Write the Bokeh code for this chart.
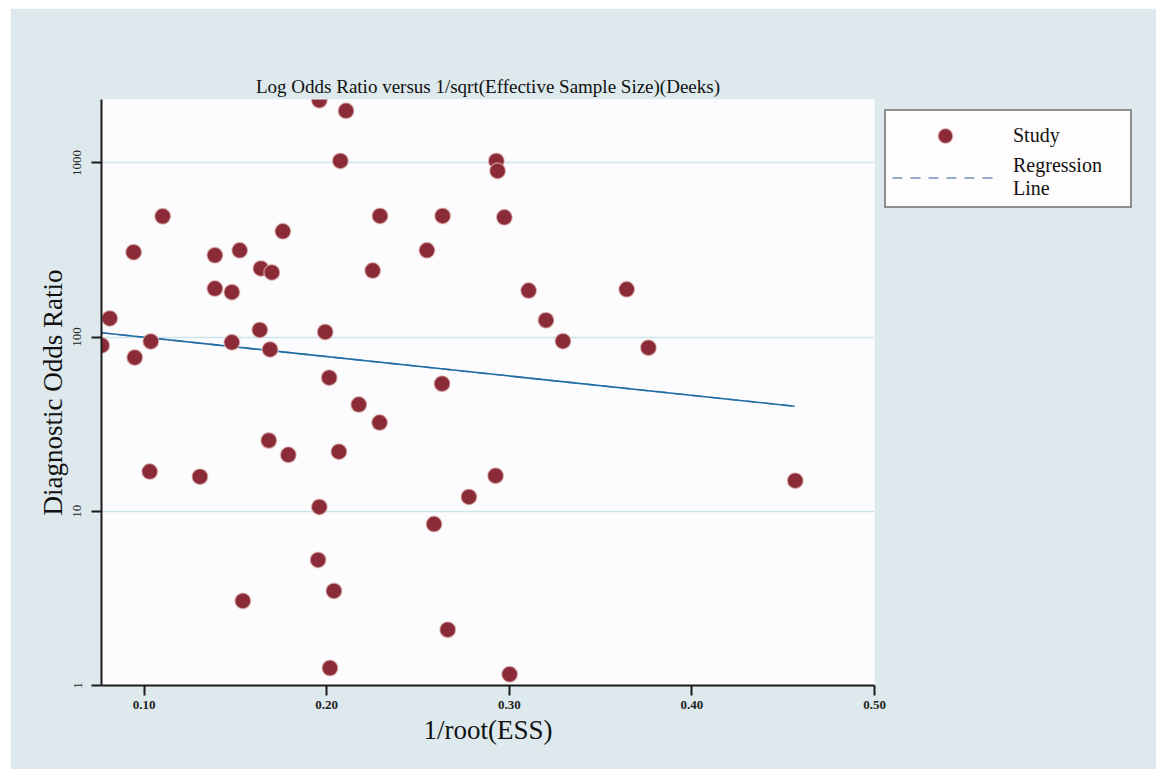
from bokeh.plotting import figure
from bokeh.models import (Range1d, FixedTicker, PrintfTickFormatter, BasicTickFormatter,
                          Legend, LegendItem, Title)
from bokeh.embed import file_html
from bokeh.resources import INLINE

# ---- data ----
ess_inv = [0.0768, 0.0812, 0.0943, 0.0949, 0.1037, 0.1031, 0.1102, 0.1306, 0.1388, 0.1388,
           0.1481, 0.1481, 0.1524, 0.1541, 0.1640, 0.1634, 0.1700, 0.1683, 0.1690, 0.1760,
           0.1790, 0.1960, 0.2106, 0.2075, 0.1960, 0.1953, 0.1992, 0.2014, 0.2018, 0.2040,
           0.2067, 0.2176, 0.2252, 0.2292, 0.2290, 0.2549, 0.2588, 0.2635, 0.2632, 0.2663,
           0.2779, 0.2929, 0.2936, 0.2973, 0.2925, 0.3002, 0.3106, 0.3201, 0.3294, 0.3643,
           0.3762, 0.4566]
dor = [89.6, 128, 307, 76.4, 94.4, 16.9, 494, 15.8, 295, 190,
       181, 93.3, 315, 3.06, 248, 110, 235, 25.5, 85, 405,
       21.1, 2290, 1991, 1027, 10.6, 5.26, 107, 58.5, 1.26, 3.49,
       22.0, 41.0, 241, 496, 32.3, 315, 8.45, 496, 54.0, 2.09,
       12.1, 1027, 900, 487, 16.0, 1.16, 185, 125, 94.8, 188,
       86.9, 15.0]

reg_x = [0.0767, 0.4562]
reg_y = [106.0, 40.1]

x_ticks = [0.10, 0.20, 0.30, 0.40, 0.50]
x_tick_labels = ["0.10", "0.20", "0.30", "0.40", "0.50"]
y_ticks = [1, 10, 100, 1000]
y_tick_labels = ["1", "10", "100", "1000"]

SERIF = "Liberation Serif"
DOT = "#8a2b37"

p = figure(frame_width=773, frame_height=586,
           x_range=Range1d(0.0767, 0.50), y_range=Range1d(1, 2312),
           y_axis_type="log", output_backend="svg", toolbar_location=None,
           min_border_left=91, min_border_right=280, min_border_top=91, min_border_bottom=84,
           background_fill_color="#fcfcfe", border_fill_color="#dde9ec",
           outline_line_color=None)
p.margin = (8, 0, 0, 10)

p.title = Title(text="Log Odds Ratio versus 1/sqrt(Effective Sample Size)(Deeks)",
                text_font=SERIF, text_font_size="19px", text_font_style="normal",
                align="center", text_color="#111111", standoff=5)

# grid
p.xgrid.visible = False
p.ygrid.ticker = FixedTicker(ticks=y_ticks)
p.ygrid.grid_line_color = "#cde3ea"
p.ygrid.grid_line_width = 1.5

# axes
for ax in (p.xaxis[0], p.yaxis[0]):
    ax.axis_line_color = "#1a1a1a"
    ax.axis_line_width = 2
    ax.major_tick_line_color = "#1a1a1a"
    ax.major_tick_line_width = 2
    ax.major_tick_out = 10
    ax.major_tick_in = 0
    ax.minor_tick_line_color = None
    ax.major_label_text_font = SERIF
    ax.major_label_text_color = "#222222"
    ax.axis_label_text_font = SERIF
    ax.axis_label_text_font_style = "normal"
    ax.axis_label_text_font_size = "27px"
    ax.axis_label_text_color = "#111111"

p.xaxis.ticker = FixedTicker(ticks=x_ticks)
p.xaxis.major_label_overrides = {t: l for t, l in zip(x_ticks, x_tick_labels)}
p.xaxis.formatter = PrintfTickFormatter(format="%.2f")
p.xaxis.major_label_text_font_size = "13px"
p.xaxis.major_label_text_font_style = "bold"
p.xaxis.major_label_standoff = 5
p.xaxis.axis_label = "1/root(ESS)"
p.xaxis.axis_label_standoff = 3

p.yaxis.ticker = FixedTicker(ticks=y_ticks)
p.yaxis.formatter = BasicTickFormatter()
p.yaxis.major_label_overrides = {t: l for t, l in zip(y_ticks, y_tick_labels)}
p.yaxis.major_label_orientation = "vertical"
p.yaxis.major_label_text_font_size = "13px"
p.yaxis.major_label_standoff = 10
p.yaxis.axis_label = "Diagnostic Odds Ratio"
p.yaxis.axis_label_standoff = 3

# regression line: dashed copy underneath (used for legend), solid line on top
reg_dash = p.line(reg_x, reg_y, line_color="#7192bb", line_width=1.6, line_dash="10 8")
p.line(reg_x, reg_y, line_color="#1f6da3", line_width=1.6)

# studies
pts = p.scatter(ess_inv, dor, size=16, marker="circle", fill_color=DOT,
                line_color="#e9c9c6", line_width=1.5, line_alpha=0.6)

legend = Legend(items=[LegendItem(label="Study", renderers=[pts]),
                       LegendItem(label="Regression\nLine", renderers=[reg_dash])],
                location="top_left",
                glyph_width=106, glyph_height=37, label_width=111, label_height=20,
                label_standoff=15, padding=6, spacing=0, margin=10,
                label_text_font=SERIF, label_text_font_size="20px",
                label_text_color="#111111",
                border_line_color="#222222", border_line_width=2,
                background_fill_color="#fefcfc", background_fill_alpha=1.0)
p.add_layout(legend, "right")

open("out.html", "w").write(file_html(p, INLINE))
